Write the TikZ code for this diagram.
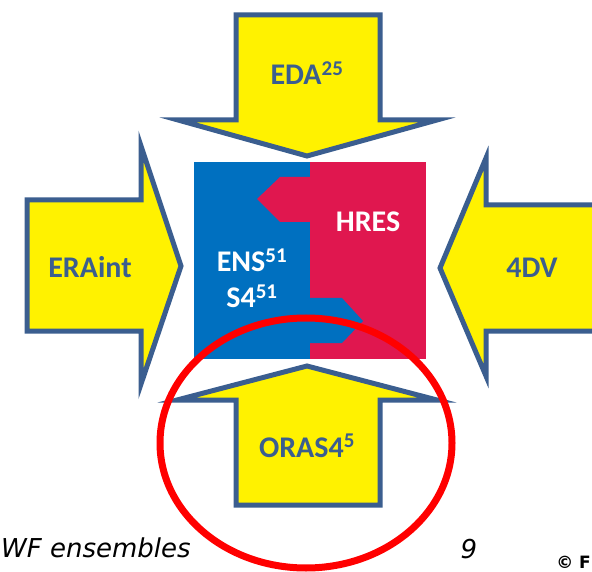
\documentclass[tikz,border=0pt]{standalone}
\usepackage{fontspec}
\setmainfont{Carlito}
\newfontfamily\footfont{DejaVu Sans}
\definecolor{arrowline}{HTML}{3B5E8F}
\definecolor{ensblue}{HTML}{0070C0}
\definecolor{hresred}{HTML}{E0174F}

\begin{document}
\begin{tikzpicture}[
    x=1pt, y=-1pt,
    bigarrow/.style={fill=yellow, draw=arrowline, line width=5pt, line join=miter},
    arrowtext/.style={anchor=base, text=arrowline, font=\fontsize{30}{36}\selectfont\bfseries},
    boxtext/.style={anchor=base, text=white, font=\fontsize{30}{36}\selectfont\bfseries},
    foottext/.style={anchor=base, font=\footfont\fontsize{26}{31}\selectfont\itshape}
    ]
    \useasboundingbox (0,0) rectangle (592,572);

    % Central box: ENS and HRES
    \fill[ensblue] (194,162) rectangle (310,359);
    \fill[hresred] (310,162) rectangle (426,359);
    \fill[hresred] (311,177) -- (280,177) -- (257,199) -- (280,222) -- (311,222) -- cycle;
    \fill[ensblue] (309,298) -- (342,298) -- (363,321) -- (342,343) -- (309,343) -- cycle;
    \node[boxtext] (hres) at (368,232) {HRES};
    \node[boxtext] (ens) at (252,272) {ENS\textsuperscript{51}};
    \node[boxtext] (sfour) at (252,308) {S4\textsuperscript{51}};

    % Arrows into the box
    \draw[bigarrow] (236,15) -- (380,15) -- (380,120) -- (437,120) -- (307,156)
        -- (178,120) -- (236,120) -- cycle;
    \draw[bigarrow] (27,200) -- (141,200) -- (141,146) -- (181,266) -- (141,384)
        -- (141,331) -- (27,331) -- cycle;
    \draw[bigarrow] (600,205) -- (486,205) -- (486,158) -- (440,268) -- (486,376)
        -- (486,331) -- (600,331);
    \draw[bigarrow] (236,505) -- (236,400) -- (177,400) -- (307,366) -- (437,400)
        -- (380,400) -- (380,505) -- cycle;
    \node[arrowtext] (eda) at (307,85) {EDA\textsuperscript{25}};
    \node[arrowtext] (eraint) at (90,277) {ERAint};
    \node[arrowtext] (fourdv) at (532,278) {4DV};
    \node[arrowtext] (oras) at (307,457) {ORAS4\textsuperscript{5}};

    % Highlight
    \draw[red, line width=7pt] (306,443) ellipse (146 and 125);

    % Footer
    \node[foottext, anchor=base west, inner sep=0pt] (title) at (1,557) {WF ensembles};
    \node[foottext] (page) at (469,558) {9};
    \node[anchor=base east, inner sep=0pt, font=\footfont\fontsize{17}{20}\selectfont\bfseries] (copy) at (591,568) {© F};
\end{tikzpicture}
\end{document}
